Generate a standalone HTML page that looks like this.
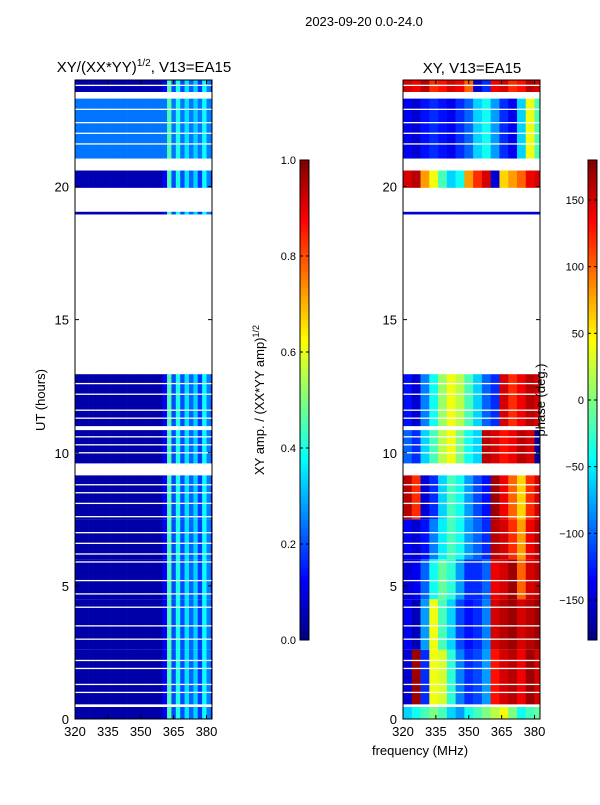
<!DOCTYPE html>
<html><head><meta charset="utf-8"><style>
html,body{margin:0;padding:0;background:#fff;}
svg text{font-family:"Liberation Sans",sans-serif;fill:#000;}
</style></head><body>
<svg id="fig" width="600" height="800" viewBox="0 0 600 800" xmlns="http://www.w3.org/2000/svg">
<text x="364" y="26" font-size="13" text-anchor="middle">2023-09-20 0.0-24.0</text>
<text x="144" y="72" font-size="15" text-anchor="middle">XY/(XX*YY)<tspan font-size="10" dy="-6">1/2</tspan><tspan dy="6">, V13=EA15</tspan></text>
<text x="472" y="73" font-size="15" text-anchor="middle">XY, V13=EA15</text>
<text transform="translate(45,400) rotate(-90)" font-size="13" text-anchor="middle">UT (hours)</text>
<text x="420" y="755" font-size="13" text-anchor="middle">frequency (MHz)</text>
<text transform="translate(264,400) rotate(-90)" font-size="13" text-anchor="middle">XY amp. / (XX*YY amp)<tspan font-size="9" dy="-5">1/2</tspan></text>
<g id="left"></g>
<g id="right"></g>
<g id="axes"></g>
<text transform="translate(545,400) rotate(-90)" font-size="13" text-anchor="middle">phase (deg.)</text>
</svg>
<script>
// ---- data ----
const blockStart = [0, 0.55, 2.6, 4.5, 6.0, 7.5, 9.6, 11.0, 18.95, 19.95, 21.05, 23.55];
const blockEnd   = [0.45, 2.6, 4.5, 6.0, 7.5, 9.15, 10.85, 12.95, 19.05, 20.6, 23.3, 24.0];
const ampChanStart = [320,322,324,326,328,330,332,334,336,338,340,342,344,346,348,350,352,354,356,358,360,362,364,366,368,370,372,374,376,378,380,382];
const ampStripe = [0,0,0,0,0,0,0,0,0,0,0,0,0,0,0,0,0,0,0,0,0.12,0.45,0.2,0.4,0.2,0.35,0.22,0.33,0.18,0.38,0.25,0.05];
const ampBase = [0.04,0.04,0.04,0.04,0.04,0.04,0.04,0.04,0.05,0.05,0.24,0.05];
const phaseChanStart = [320,324,328,332,336,340,344,348,352,356,360,364,368,372,376,380];
const phaseBlocks = [
 [-60,-40,-20,0,-20,-60,-80,-40,-20,0,20,40,0,-40,-20,-10],
 [-150,170,-120,40,30,-30,-90,-120,-110,-80,130,150,160,140,170,150],
 [-140,-160,-80,40,-20,-60,-110,-130,-120,-90,150,160,170,150,160,170],
 [-150,-140,-100,-40,-10,-30,-80,-120,-120,-100,140,150,170,100,150,160],
 [-140,-150,-130,-90,-50,-20,-40,-80,-100,-120,160,150,120,80,140,160],
 [160,120,-150,-120,-60,-20,-40,-80,-110,-130,170,140,100,60,120,150],
 [-100,-120,-60,-20,20,40,0,-40,-60,160,150,130,140,160,150,-170],
 [-130,-150,-90,-40,10,40,20,-20,-60,-100,-120,150,120,140,160,150],
 [-150,-150,-150,-150,-150,-150,-150,-150,-150,-150,-150,-150,-150,-150,-150,-150],
 [150,160,80,40,-20,-60,-40,80,120,150,-150,60,80,100,140,150],
 [-140,-150,-130,-120,-130,-140,-120,-100,-60,-40,-80,-120,-140,-60,40,-20],
 [150,140,160,120,130,150,140,100,-150,-120,140,150,120,130,160,150]
];
const flagLines = [1.0,1.3,1.9,2.2,3.0,3.5,4.2,4.7,5.2,5.9,6.2,6.6,7.0,7.6,8.1,8.5,8.8,10.0,10.3,10.6,11.3,11.6,12.2,12.6,21.6,22.0,22.4,22.9,23.8];
const xTicks = [320,335,350,365,380];
const yTicks = [0,5,10,15,20];
const ampTicks = [0.0,0.2,0.4,0.6,0.8,1.0];
const phaseTicks = [-150,-100,-50,0,50,100,150];

// ---- helpers ----
const NS="http://www.w3.org/2000/svg";
function jet(v){v=Math.max(0,Math.min(1,v));
 const f=t=>Math.max(0,Math.min(1,t));
 const r=f(1.5-Math.abs(4*v-3)),g=f(1.5-Math.abs(4*v-2)),b=f(1.5-Math.abs(4*v-1));
 return `rgb(${Math.round(r*255)},${Math.round(g*255)},${Math.round(b*255)})`;}
const F0=320,F1=382.5,T0=0,T1=24,PY0=80,PY1=719;
function yS(t){return PY1-(t-T0)/(T1-T0)*(PY1-PY0);}
function xS(f,x0){return x0+(f-F0)/(F1-F0)*137;}
function mk(parent,tag,attrs){const e=document.createElementNS(NS,tag);for(const k in attrs)e.setAttribute(k,attrs[k]);parent.appendChild(e);return e;}
const L=document.getElementById('left'),R=document.getElementById('right'),A=document.getElementById('axes');
const LX=75,RX=403;

for(let b=0;b<blockStart.length;b++){
 for(let c=0;c<ampChanStart.length;c++){
  const f0=ampChanStart[c],f1=Math.min(f0+2,F1);
  const v=Math.max(ampBase[b],ampStripe[c]);
  const r=mk(L,'rect',{x:xS(f0,LX),y:yS(blockEnd[b]),width:xS(f1,LX)-xS(f0,LX)+0.3,height:yS(blockStart[b])-yS(blockEnd[b]),fill:jet(v)});
  
  
 }
 for(let c=0;c<phaseChanStart.length;c++){
  const f0=phaseChanStart[c],f1=Math.min(f0+4,F1);
  const v=(phaseBlocks[b][c]+180)/360;
  const r=mk(R,'rect',{x:xS(f0,RX),y:yS(blockEnd[b]),width:xS(f1,RX)-xS(f0,RX)+0.3,height:yS(blockStart[b])-yS(blockEnd[b]),fill:jet(v)});
  
  
 }
}
for(const t of flagLines){
 for(const x0 of [LX,RX]){
  const r=mk(x0===LX?L:R,'rect',{x:x0,y:yS(t)-0.6,width:137,height:1.3,fill:'#fff'});
  
  
 }
}
for(const x0 of [LX,RX]){
 const fr=mk(A,'rect',{x:x0,y:PY0,width:137,height:PY1-PY0,fill:'none',stroke:'#000','stroke-width':1});
 
 
 for(const f of xTicks){const x=xS(f,x0);
  mk(A,'line',{x1:x,x2:x,y1:PY1,y2:PY1-4,stroke:'#000'});mk(A,'line',{x1:x,x2:x,y1:PY0,y2:PY0+4,stroke:'#000'});
  const t=mk(A,'text',{x:x,y:PY1+17,'font-size':13,'text-anchor':'middle'});t.textContent=f;
  
  }
 for(const u of yTicks){const y=yS(u);
  mk(A,'line',{x1:x0,x2:x0+4,y1:y,y2:y,stroke:'#000'});mk(A,'line',{x1:x0+133,x2:x0+137,y1:y,y2:y,stroke:'#000'});
  const t=mk(A,'text',{x:x0-6,y:y+5,'font-size':13,'text-anchor':'end'});t.textContent=u;
  
  }
}
function cbar(x,lo,hi,ticks,name){
 const g=mk(A,'g',{});
 
 
 const n=120;for(let i=0;i<n;i++){mk(g,'rect',{x:x,y:640-(i+1)*4,width:9,height:4.3,fill:jet((i+0.5)/n)});}
 mk(g,'rect',{x:x,y:160,width:9,height:480,fill:'none',stroke:'#000'});
 for(const v of ticks){const y=640-(v-lo)/(hi-lo)*480;
  mk(g,'line',{x1:x,x2:x+3,y1:y,y2:y,stroke:'#000'});mk(g,'line',{x1:x+6,x2:x+9,y1:y,y2:y,stroke:'#000'});
  const t=mk(g,'text',{x:x-4,y:y+4,'font-size':11,'text-anchor':'end'});
  t.textContent=(lo===0?v.toFixed(1):(v<0?'\u2212'+(-v):v));
  
  }
}
cbar(300,0,1,ampTicks,'amp-colorbar');
cbar(588,-180,180,phaseTicks,'phase-colorbar');
</script>
</body></html>
